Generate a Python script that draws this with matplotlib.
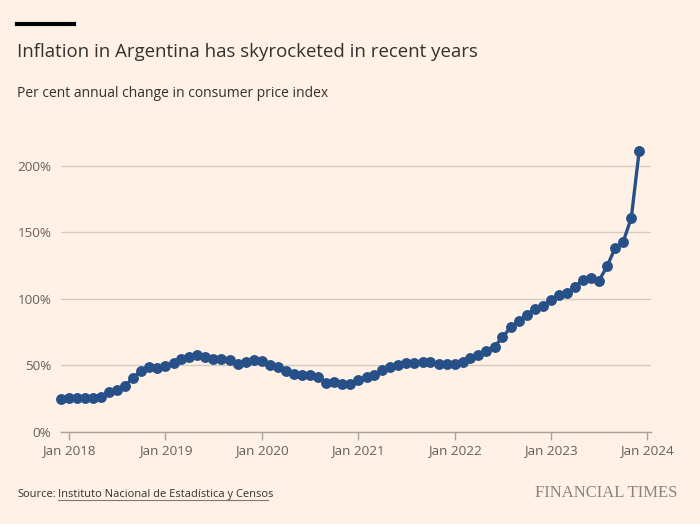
import numpy as np
import pandas as pd
import matplotlib
matplotlib.use('Agg')
from matplotlib import pyplot as plt
import matplotlib.dates as mdates

# monthly CPI, annual % change, Dec 2017 .. Dec 2023
months = pd.date_range('2017-12-01', '2023-12-01', freq='MS')
inflation = [24.8,
             25.0, 25.4, 25.4, 25.5, 26.3, 29.5, 31.2, 34.4, 40.5, 45.9, 48.5, 47.6,
             49.3, 51.3, 54.7, 55.8, 57.3, 55.8, 54.4, 54.5, 53.5, 50.5, 52.1, 53.8,
             52.9, 50.3, 48.4, 45.6, 43.4, 42.8, 42.4, 40.7, 36.6, 37.2, 35.8, 36.1,
             38.5, 40.7, 42.6, 46.3, 48.8, 50.2, 51.8, 51.4, 52.5, 52.1, 51.2, 50.9,
             50.7, 52.3, 55.1, 58.0, 60.7, 64.0, 71.0, 78.5, 83.0, 88.0, 92.4, 94.8,
             98.8, 102.5, 104.3, 108.8, 114.2, 115.6, 113.4, 124.4, 138.3, 142.7, 160.9, 211.4]
yticks = [0, 50, 100, 150, 200]
xtick_years = [2018, 2019, 2020, 2021, 2022, 2023, 2024]

bg = '#fff1e5'
line_col = '#275089'
text_col = '#33302e'
tick_col = '#66605c'

plt.rcParams['font.family'] = ['Open Sans', 'DejaVu Sans']

fig = plt.figure(figsize=(7, 5.24), dpi=100, facecolor=bg)
ax = fig.add_axes([0.0871, 0.1765, 0.843, 0.5447])
ax.set_facecolor(bg)

ax.plot(months, inflation, color=line_col, lw=2.4, marker='o', ms=6.8,
        clip_on=False, zorder=3)

ax.set_ylim(0, 215)
ax.set_xlim(pd.Timestamp('2017-12-01'), pd.Timestamp('2024-01-15'))

ax.set_yticks(yticks)
ax.set_yticklabels([f'{v}%' for v in yticks])
ax.yaxis.grid(True, color='#d6cbc1', lw=1)
ax.set_axisbelow(True)
ax.tick_params(axis='y', length=0, pad=7, labelsize=9.7, labelcolor=tick_col)

ax.set_xticks([pd.Timestamp(f'{y}-01-01') for y in xtick_years])
ax.set_xticklabels([f'Jan {y}' for y in xtick_years])
ax.tick_params(axis='x', length=6, width=1, color='#a8a19b', pad=3,
               labelsize=9.7, labelcolor=tick_col)

for s in ['top', 'right', 'left']:
    ax.spines[s].set_visible(False)
ax.spines['bottom'].set_color('#a8a19b')
ax.spines['bottom'].set_linewidth(1)

# header
fig.add_artist(plt.Line2D([17 / 700, 74 / 700], [1 - 24 / 524, 1 - 24 / 524],
                          color='black', lw=3))
fig.text(17 / 700, 1 - 57 / 524, 'Inflation in Argentina has skyrocketed in recent years',
         fontsize=13.4, color=text_col, ha='left', va='baseline')
fig.text(17 / 700, 1 - 97 / 524, 'Per cent annual change in consumer price index',
         fontsize=10, color=text_col, ha='left', va='baseline')

# footer
fig.text(17 / 700, 1 - 497 / 524, 'Source:', fontsize=8, color=text_col,
         ha='left', va='baseline')
fig.text(58 / 700, 1 - 497 / 524, 'Instituto Nacional de Estadística y Censos',
         fontsize=8, color=text_col, ha='left', va='baseline')
fig.add_artist(plt.Line2D([58 / 700, 268 / 700], [1 - 500 / 524, 1 - 500 / 524],
                          color='#807973', lw=0.8))
fig.text(677 / 700, 1 - 497 / 524, 'FINANCIAL TIMES', fontsize=12,
         family='Liberation Serif', color='#8a8480', ha='right', va='baseline')

fig.savefig('out.png', dpi=100, facecolor=bg)
